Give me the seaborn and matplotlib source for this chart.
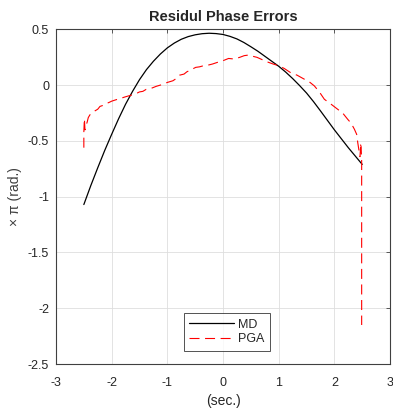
import numpy as np
import pandas as pd
import seaborn as sns
import matplotlib.pyplot as plt

# MD curve
md_x = [-2.5, -2.375, -2.25, -2.125, -2.0, -1.875, -1.75, -1.625, -1.5, -1.375,
        -1.25, -1.125, -1.0, -0.875, -0.75, -0.625, -0.5, -0.375, -0.25, -0.125,
        0.0, 0.125, 0.25, 0.375, 0.5, 0.625, 0.75, 0.875, 1.0, 1.125,
        1.25, 1.375, 1.5, 1.625, 1.75, 1.875, 2.0, 2.125, 2.25, 2.375, 2.5]
md_y = [-1.07, -0.90, -0.74, -0.585, -0.44, -0.30, -0.17, -0.055, 0.05, 0.14,
        0.215, 0.28, 0.335, 0.378, 0.412, 0.436, 0.452, 0.462, 0.466, 0.463,
        0.455, 0.438, 0.415, 0.383, 0.345, 0.305, 0.26, 0.215, 0.17, 0.118,
        0.06, -0.003, -0.07, -0.147, -0.23, -0.315, -0.40, -0.48, -0.56, -0.635, -0.71]

# PGA curve (noisy, read point by point)
pga_x = [-2.50, -2.50, -2.49, -2.48, -2.46, -2.44, -2.42, -2.39, -2.35, -2.30,
         -2.25, -2.21, -2.15, -2.10, -2.05, -2.00, -1.92, -1.85, -1.76, -1.67,
         -1.58, -1.50, -1.44, -1.38, -1.30, -1.20, -1.10, -1.00, -0.90, -0.84,
         -0.78, -0.70, -0.65, -0.57, -0.49, -0.42, -0.35, -0.27, -0.19, -0.10,
         0.00, 0.10, 0.20, 0.30, 0.38, 0.45, 0.53, 0.61, 0.70, 0.79,
         0.90, 1.00, 1.10, 1.21, 1.33, 1.46, 1.55, 1.64, 1.73, 1.82,
         1.94, 2.06, 2.15, 2.24, 2.30, 2.36, 2.40, 2.42, 2.44, 2.46,
         2.47, 2.46, 2.48, 2.49, 2.49]
pga_y = [-0.56, -0.42, -0.30, -0.40, -0.36, -0.33, -0.29, -0.265, -0.25, -0.23,
         -0.215, -0.19, -0.18, -0.165, -0.155, -0.143, -0.13, -0.12, -0.105, -0.092,
         -0.08, -0.06, -0.055, -0.037, -0.03, -0.01, 0.005, 0.025, 0.04, 0.06,
         0.09, 0.10, 0.12, 0.14, 0.16, 0.165, 0.175, 0.18, 0.19, 0.205,
         0.22, 0.24, 0.235, 0.25, 0.265, 0.27, 0.26, 0.25, 0.23, 0.21,
         0.19, 0.175, 0.15, 0.114, 0.09, 0.054, 0.03, -0.006, -0.06, -0.126,
         -0.17, -0.216, -0.25, -0.306, -0.34, -0.395, -0.44, -0.515, -0.58, -0.64,
         -0.56, -0.52, -0.55, -0.68, -2.15]

x_ticks = [-3, -2, -1, 0, 1, 2, 3]
y_ticks = [-2.5, -2, -1.5, -1, -0.5, 0, 0.5]

sns.set_theme(style="white")
plt.rcParams['font.family'] = ['Liberation Sans', 'DejaVu Sans']
plt.rcParams['axes.unicode_minus'] = False

fig = plt.figure(figsize=(3.93, 4.08), dpi=100)
ax = fig.add_axes([0.1425, 0.1078, 0.85, 0.82])

md = pd.DataFrame({'t': md_x, 'v': md_y})
pga = pd.DataFrame({'t': pga_x, 'v': pga_y})

sns.lineplot(data=md, x='t', y='v', ax=ax, color='black', lw=0.9,
             sort=False, estimator=None, label='MD')
sns.lineplot(data=pga, x='t', y='v', ax=ax, color='red', lw=0.8,
             linestyle='--', sort=False, estimator=None, label='PGA')
# longer matlab-like dashes
ax.lines[1].set_dashes([9, 5])

ax.set_xlim(-3, 3)
ax.set_ylim(-2.5, 0.5)
ax.set_xticks(x_ticks)
ax.set_yticks(y_ticks)
ax.set_xticklabels([f'{v:g}' for v in x_ticks])
ax.set_yticklabels([f'{v:g}' for v in y_ticks])

ax.grid(True, color='#dedede', lw=0.6)
ax.set_axisbelow(True)
for s in ax.spines.values():
    s.set_visible(True)
    s.set_color('#404040')
    s.set_linewidth(0.8)
ax.tick_params(direction='in', length=3, width=0.6, color='#404040',
               top=True, right=True, labelsize=9, labelcolor='#262626')
ax.tick_params(axis='x', pad=9)
ax.tick_params(axis='y', pad=5)

ax.set_title('Residul Phase Errors', fontsize=10.5, fontweight='bold', pad=6)
ax.set_xlabel('(sec.)', fontsize=10, color='#262626', labelpad=4)
ax.set_ylabel('× π (rad.)', fontsize=10, color='#404040', labelpad=4)

leg = ax.legend(handles=ax.lines[:2], labels=['MD', 'PGA'],
                loc='lower center', bbox_to_anchor=(0.512, 0.04), fontsize=9,
                handlelength=3.6, frameon=True, fancybox=False, borderpad=0.45,
                labelspacing=0.2, handletextpad=0.3, borderaxespad=0)
leg.get_frame().set_edgecolor('#262626')
leg.get_frame().set_linewidth(0.7)

fig.savefig('out.png', dpi=100)
